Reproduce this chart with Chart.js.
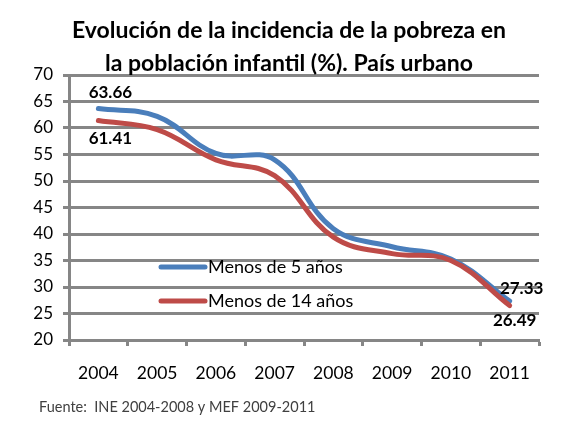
<!DOCTYPE html>
<html>
<head>
<meta charset="utf-8">
<script src="https://cdn.jsdelivr.net/npm/chart.js@4.4.1/dist/chart.umd.min.js"></script>
<style>
  body { margin: 0; background: #fff; }
</style>
</head>
<body>
<canvas id="pobrezaChart" width="573" height="435"></canvas>
<script>
// ----------------------- datos del gráfico -----------------------
const anios = ["2004", "2005", "2006", "2007", "2008", "2009", "2010", "2011"];
const menos5 = [63.66, 62.2, 55.2, 54.0, 41.0, 37.6, 35.3, 27.33];
const menos14 = [61.41, 59.7, 54.0, 51.0, 39.4, 36.3, 35.0, 26.49];
const nombresSeries = ["Menos de 5 años", "Menos de 14 años"];
const yMin = 20;
const yMax = 70;
const yPaso = 5;

const titulo = ["Evolución de la incidencia de la pobreza en", "la población infantil (%). País urbano"];
const fuente = "Fuente:  INE 2004-2008 y MEF 2009-2011";

const gris = "#868686";
const fuenteTexto = "Lato";

// etiquetas de valor: primer y último punto de cada serie
const etiquetas = [
  { serie: 0, idx: 0, dx: 12, dy: -16 },
  { serie: 1, idx: 0, dx: 12, dy: 18 },
  { serie: 0, idx: 7, dx: 12, dy: -13 },
  { serie: 1, idx: 7, dx: 5, dy: 15 }
];

// ----------------------- plugins propios -----------------------
const leyendaInterna = {
  id: "leyendaInterna",
  afterDatasetsDraw(chart) {
    const ctx = chart.ctx;
    const area = chart.chartArea;
    chart.data.datasets.forEach(function (ds, i) {
      const x = area.left + 92;
      const y = area.top + 192 + i * 34;
      ctx.save();
      ctx.strokeStyle = ds.borderColor;
      ctx.lineWidth = 5;
      ctx.lineCap = "round";
      ctx.beginPath();
      ctx.moveTo(x, y);
      ctx.lineTo(x + 44, y);
      ctx.stroke();
      ctx.fillStyle = "#000";
      ctx.font = "18px " + fuenteTexto;
      ctx.textBaseline = "middle";
      ctx.fillText(ds.label, x + 47, y);
      ctx.restore();
    });
  }
};

const etiquetasValor = {
  id: "etiquetasValor",
  afterDatasetsDraw(chart) {
    const ctx = chart.ctx;
    ctx.save();
    ctx.fillStyle = "#000";
    ctx.font = "bold 17px " + fuenteTexto;
    ctx.textAlign = "center";
    ctx.textBaseline = "middle";
    etiquetas.forEach(function (e) {
      const punto = chart.getDatasetMeta(e.serie).data[e.idx];
      const valor = chart.data.datasets[e.serie].data[e.idx];
      ctx.fillText(valor.toFixed(2), punto.x + e.dx, punto.y + e.dy);
    });
    ctx.restore();
  }
};

// nota de fuente bajo el gráfico
const notaFuente = {
  id: "notaFuente",
  afterDraw(chart) {
    const ctx = chart.ctx;
    ctx.save();
    ctx.fillStyle = "#404040";
    ctx.font = "14.5px " + fuenteTexto;
    ctx.textBaseline = "middle";
    ctx.fillText(fuente, chart.chartArea.left - 30, chart.chartArea.bottom + 67);
    ctx.restore();
  }
};

// ----------------------- gráfico -----------------------
const ctx = document.querySelector("#pobrezaChart").getContext("2d");

const lineChart = new Chart(ctx, {
  type: "line",
  data: {
    labels: anios,
    datasets: [{
      label: nombresSeries[0],
      data: menos5,
      borderColor: "#4A7EBB",
      order: 1
    }, {
      label: nombresSeries[1],
      data: menos14,
      borderColor: "#BE4B48",
      order: 0
    }]
  },
  options: {
    responsive: false,
    animation: false,
    layout: { padding: { left: 5, right: 0, top: 0, bottom: 45 } },
    elements: {
      point: { radius: 0, hoverRadius: 0 },
      line: { borderWidth: 5, tension: 0.4, borderCapStyle: "round", fill: false }
    },
    scales: {
      x: {
        offset: true,
        afterFit: function (s) { s.height = 50; },
        grid: {
          offset: true,
          drawOnChartArea: false,
          tickLength: 6,
          tickColor: gris,
          tickWidth: 3
        },
        border: { color: gris, width: 3 },
        ticks: {
          color: "#000",
          padding: 17,
          font: { family: fuenteTexto, size: 17.5 }
        }
      },
      y: {
        min: yMin,
        max: yMax,
        afterFit: function (s) { s.width = 64; },
        grid: {
          color: gris,
          lineWidth: 3,
          tickLength: 6,
          tickColor: gris,
          tickWidth: 3
        },
        border: { color: gris, width: 3 },
        ticks: {
          stepSize: yPaso,
          color: "#000",
          padding: 10,
          font: { family: fuenteTexto, size: 17 }
        }
      },
      // margen derecho vacío (sin marcas)
      margenDer: {
        type: "linear",
        position: "right",
        afterFit: function (s) { s.width = 34; },
        grid: { display: false },
        border: { display: false },
        ticks: { display: false }
      }
    },
    plugins: {
      legend: { display: false },
      tooltip: { enabled: false },
      title: {
        display: true,
        text: titulo,
        color: "#000",
        font: { family: fuenteTexto, size: 23, weight: "bold", lineHeight: 1.45 },
        padding: { top: 14, bottom: -5.7 }
      }
    }
  },
  plugins: [leyendaInterna, etiquetasValor, notaFuente]
});
</script>
</body>
</html>
